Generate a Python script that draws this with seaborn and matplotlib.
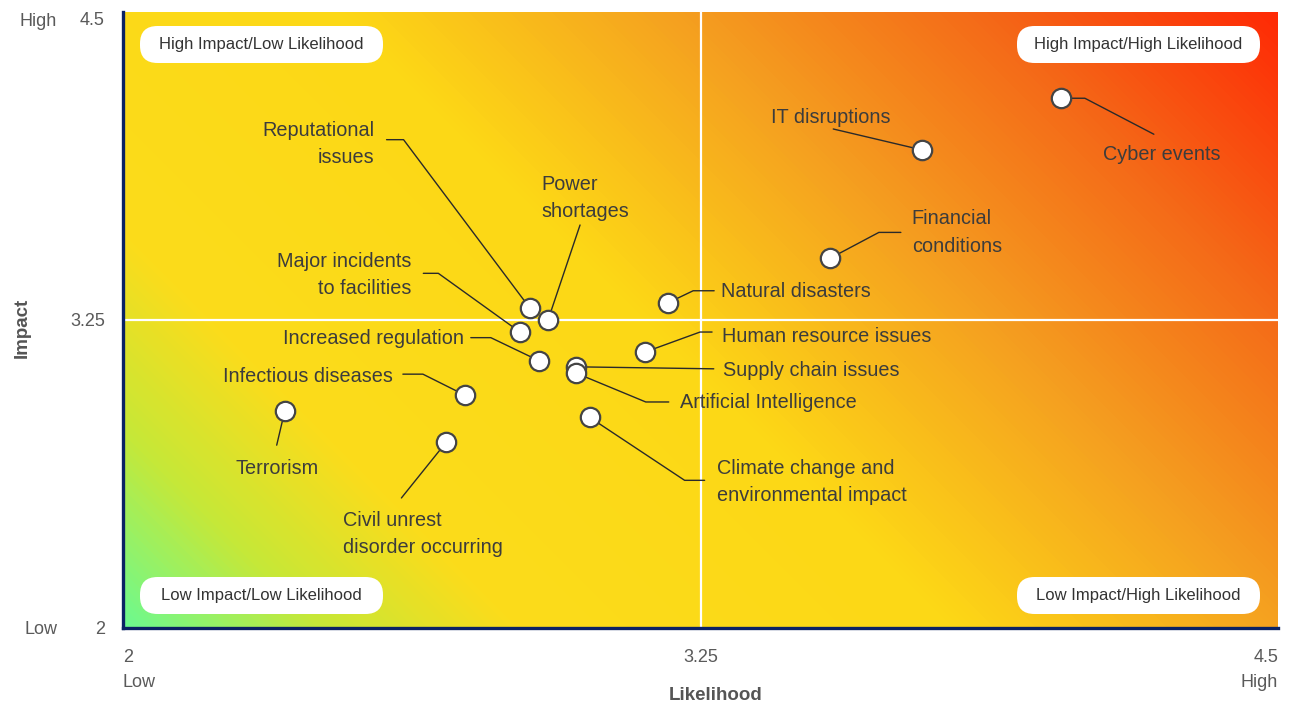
"""Risk matrix: likelihood vs impact with gradient background."""
import matplotlib

matplotlib.use("Agg")
import matplotlib.pyplot as plt
import numpy as np
import pandas as pd
import seaborn as sns
from matplotlib.colors import LinearSegmentedColormap
from matplotlib.patches import FancyBboxPatch

# ---- data ----
risks = [
    "Cyber events", "IT disruptions", "Financial\nconditions", "Natural disasters",
    "Human resource issues", "Supply chain issues", "Artificial Intelligence",
    "Climate change and\nenvironmental impact", "Reputational\nissues", "Power\nshortages",
    "Major incidents\nto facilities", "Increased regulation", "Infectious diseases",
    "Terrorism", "Civil unrest\ndisorder occurring",
]
likelihood = [4.03, 3.73, 3.53, 3.18, 3.13, 2.98, 2.98, 3.01, 2.88, 2.92, 2.86, 2.90, 2.74, 2.35, 2.70]
impact = [4.15, 3.94, 3.50, 3.32, 3.12, 3.06, 3.035, 2.855, 3.30, 3.25, 3.20, 3.085, 2.945, 2.88, 2.755]

quadrant_labels = ["High Impact/Low Likelihood", "High Impact/High Likelihood",
                   "Low Impact/Low Likelihood", "Low Impact/High Likelihood"]
x_ticks = [2, 2.25, 2.5, 2.75, 3, 3.25, 3.5, 3.75, 4, 4.25, 4.5]
x_ticklabels = ["2\nLow", "", "", "", "", "3.25", "", "", "", "", "4.5\nHigh"]
y_ticks = [2, 3.25, 4.5]
y_ticklabels = ["2", "3.25", "4.5"]

# label layout: text offset (px, +y down), alignment, leader path offsets (px)
layout = {
    "Cyber events": ((101, 53), "center", [(24, 0), (93, 36)]),
    "IT disruptions": ((-92, -35), "center", [(-89, -21)]),
    "Financial\nconditions": ((82, -29), "left", [(49, -26), (71, -26)]),
    "Natural disasters": ((53, -14), "left", [(25, -12), (46, -12)]),
    "Human resource issues": ((77, -19), "left", [(55, -20), (67, -20)]),
    "Supply chain issues": ((147, 1), "left", [(138, 2)]),
    "Artificial Intelligence": ((104, 27), "left", [(70, 29), (93, 29)]),
    "Climate change and\nenvironmental impact": ((127, 62), "left", [(95, 63), (115, 63)]),
    "Reputational\nissues": ((-155, -167), "right", [(-126, -168), (-143, -168)]),
    "Power\nshortages": ((-7, -125), "left", [(32, -95)]),
    "Major incidents\nto facilities": ((-109, -60), "right", [(-82, -59), (-97, -59)]),
    "Increased regulation": ((-75, -25), "right", [(-48, -23), (-68, -23)]),
    "Infectious diseases": ((-72, -22), "right", [(-42, -21), (-62, -21)]),
    "Terrorism": ((-8, 54), "center", [(-8, 34)]),
    "Civil unrest\ndisorder occurring": ((-103, 89), "left", [(-45, 56)]),
}
text_shift = 3  # px, text sits a touch lower than its measured centre

df = pd.DataFrame({"risk": risks, "likelihood": likelihood, "impact": impact})

sns.set_theme(style="white")
plt.rcParams["font.family"] = ["Liberation Sans", "DejaVu Sans"]

navy = "#0b2264"
text_col = "#3c3c3c"
tick_col = "#5a5a5a"

fig = plt.figure(figsize=(12.92, 7.04), dpi=100)
ax = fig.add_axes([123 / 1292, 76 / 704, 1155 / 1292, 616 / 704])

# gradient background (diagonal in pixel space)
grad = LinearSegmentedColormap.from_list("risk", [
    (0.0, "#6cfa90"), (0.11, "#c6e838"), (0.22, "#fbdc1b"), (0.47, "#fdd816"),
    (0.66, "#f5a020"), (0.83, "#f46a18"), (1.0, "#ff2a05"),
])
W, H = 1155, 616
xx, yy = np.meshgrid(np.arange(W), np.arange(H))
ax.imshow((xx + yy) / (W + H), cmap=grad, origin="lower", extent=(2, 4.5, 2, 4.5),
          aspect="auto", zorder=0, interpolation="bilinear")

ax.axvline(3.25, color="white", lw=1.6, zorder=1)
ax.axhline(3.25, color="white", lw=1.6, zorder=1)

sns.scatterplot(data=df, x="likelihood", y="impact", ax=ax, s=195, color="white",
                edgecolor="#444444", linewidth=1.6, zorder=4, legend=False)

ax.set_xlim(2, 4.5)
ax.set_ylim(2, 4.5)

# leader lines + labels
for name, lx, ly in zip(risks, likelihood, impact):
    (tdx, tdy), ha, path = layout[name]
    X, Y = ax.transData.transform((lx, ly))
    pts = [(X, Y)] + [(X + dx, Y - dy) for dx, dy in path]
    pts = ax.transData.inverted().transform(pts)
    ax.plot(pts[:, 0], pts[:, 1], color="#2a2a2a", lw=1.0, zorder=3, clip_on=False)
    ax.annotate(name, xy=(lx, ly), xytext=(tdx, -(tdy + text_shift)),
                textcoords="offset pixels", ha=ha, va="center", multialignment=ha,
                fontsize=14.3, color=text_col, linespacing=1.55, zorder=5)

# quadrant pills
box_pos = [(17, 26), (894, 26), (17, 577), (894, 577)]  # px from axes left / figure top
for lab, (bx, by) in zip(quadrant_labels, box_pos):
    x0 = bx / W
    y0 = (628 - by - 37) / H
    ax.add_patch(FancyBboxPatch((x0, y0), 243 / W, 37 / H, transform=ax.transAxes,
                                boxstyle=f"round,pad=0,rounding_size={17.5 / W}",
                                mutation_aspect=W / H, fc="white", ec="none", zorder=6))
    ax.text(x0 + 121.5 / W, y0 + 18.5 / H, lab, transform=ax.transAxes, ha="center",
            va="center", fontsize=12, color="#333333", zorder=7)

# axes styling
ax.set_xticks(x_ticks)
ax.set_xticklabels(x_ticklabels, linespacing=1.6)
ax.set_yticks(y_ticks)
ax.set_yticklabels(y_ticklabels)
xl = ax.get_xticklabels()
xl[0].set_ha("left")
xl[0].set_multialignment("left")
xl[-1].set_ha("right")
xl[-1].set_multialignment("right")
ax.tick_params(axis="x", direction="out", length=6, width=2, color=navy, pad=9,
               labelsize=13, labelcolor=tick_col)
ax.tick_params(axis="y", length=0, pad=13, labelsize=13, labelcolor=tick_col)
for side in ["top", "right"]:
    ax.spines[side].set_visible(False)
for side in ["left", "bottom"]:
    ax.spines[side].set_color(navy)
    ax.spines[side].set_linewidth(2.4)
    ax.spines[side].set_zorder(8)

ax.annotate("High", xy=(0, 4.5), xycoords=("axes fraction", "data"), xytext=(-66, -9),
            textcoords="offset pixels", ha="right", va="center", fontsize=13, color=tick_col)
ax.annotate("Low", xy=(0, 2), xycoords=("axes fraction", "data"), xytext=(-66, -1),
            textcoords="offset pixels", ha="right", va="center", fontsize=13, color=tick_col)
# nudge the top y tick label down like the reference
yl = ax.get_yticklabels()
yl[-1].set_va("top")

ax.set_xlabel("Likelihood", fontsize=13.5, fontweight="bold", color="#555555")
ax.set_ylabel("Impact", fontsize=13.5, fontweight="bold", color="#555555")
ax.xaxis.set_label_coords(0.513, -0.095)
ax.yaxis.set_label_coords(-0.080, 0.487)

fig.savefig("out.png", dpi=100)
plt.close(fig)
